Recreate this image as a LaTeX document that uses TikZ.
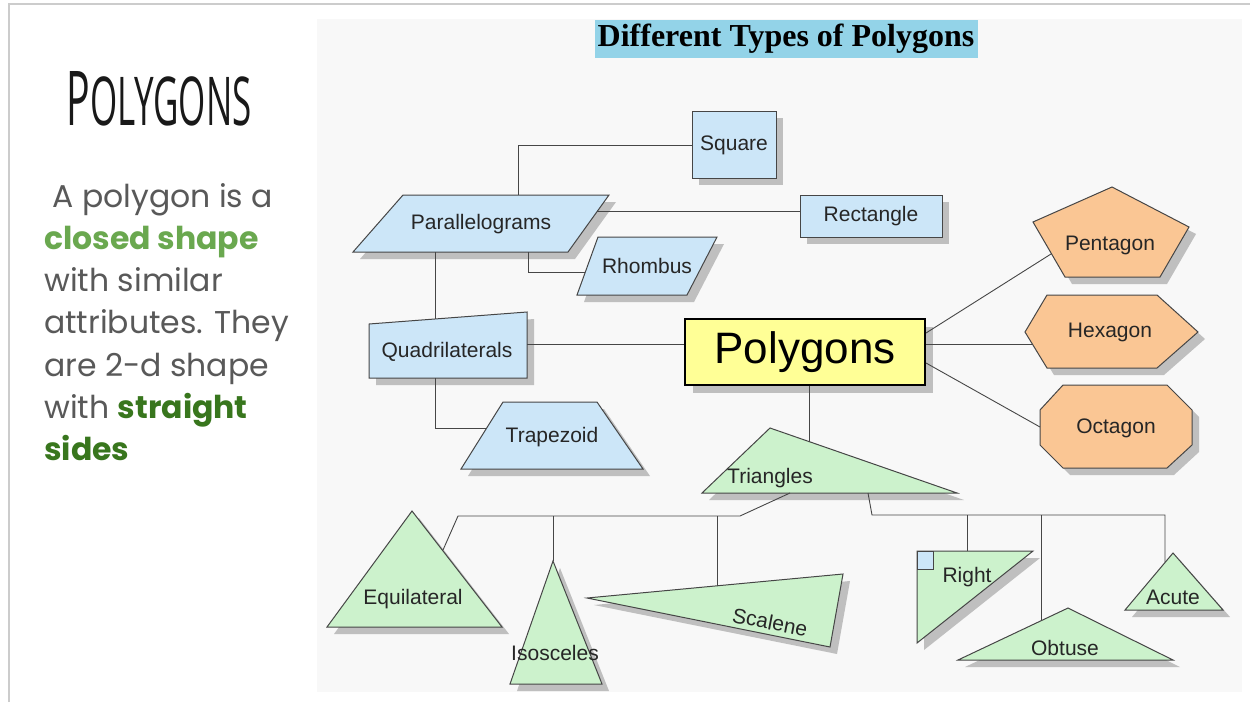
\documentclass[tikz,border=0pt]{standalone}
\usepackage{fontspec}
\setmainfont{Liberation Sans}
\newfontfamily\titlefont{Liberation Serif}
\newfontfamily\roundfont{Poppins}
\newfontfamily\headfont{Open Sans}
\usetikzlibrary{shadows}
\definecolor{qblue}{RGB}{204,230,248}
\definecolor{qgreen}{RGB}{204,242,204}
\definecolor{qorange}{RGB}{250,198,148}
\definecolor{qyellow}{RGB}{255,255,150}
\definecolor{qtitle}{RGB}{147,211,232}
\definecolor{qline}{RGB}{70,70,70}
\definecolor{qbg}{RGB}{248,248,248}
\definecolor{txtgray}{RGB}{89,89,89}
\definecolor{lgreen}{RGB}{106,168,79}
\definecolor{dgreen}{RGB}{56,118,29}
\tikzset{
  polyfig/.style={draw=qline, line width=1pt, line join=miter,
    drop shadow={shadow xshift=7pt, shadow yshift=-7pt, fill=black!25, opacity=1}},
  bluefig/.style={polyfig, fill=qblue},
  greenfig/.style={polyfig, fill=qgreen},
  orangefig/.style={polyfig, fill=qorange},
  conn/.style={draw=qline, line width=0.9pt},
  lbl/.style={font=\fontsize{21}{21}\selectfont, text=black!85, inner sep=0pt},
  body/.style={anchor=base west, inner sep=0pt, text=txtgray,
    font=\roundfont\fontsize{31.5}{31.5}\selectfont},
}
\begin{document}
\begin{tikzpicture}[x=1pt,y=-1pt]
\useasboundingbox (0,0) rectangle (1250,702);
\fill[white] (0,0) rectangle (1250,702);
% slide frame
\draw[black!20, line width=1.5pt] (9,702) -- (9,4) -- (1250,4);
% diagram background
\fill[qbg] (317,19) rectangle (1242,692);

% left panel
\node[inner sep=0pt, text=black!90] (head) at (159,99)
  {\resizebox{185pt}{54pt}{\headfont P\fontsize{8.9}{9}\selectfont OLYGONS}};
\node[body] (t1) at (44,207) {\ A polygon is a};
\node[body, text=lgreen] (t2) at (44,249) {\bfseries closed shape};
\node[body] (t3) at (44,291) {with similar};
\node[body] (t4) at (44,333) {attributes. They};
\node[body] (t5) at (44,376) {are 2-d shape};
\node[body] (t6) at (44,418) {with \textcolor{dgreen}{\bfseries straight}};
\node[body, text=dgreen] (t7) at (44,460) {\bfseries sides};

% title
\node[fill=qtitle, minimum width=383pt, minimum height=38pt, inner sep=0pt,
  font=\titlefont\bfseries\fontsize{32}{32}\selectfont] (title) at (786,39)
  {Different Types of Polygons};

% ---------- quadrilaterals branch ----------
\filldraw[bluefig] (692,111) rectangle (776,178);
\node[lbl] (sq) at (734,145) {Square};
\filldraw[bluefig] (403,195) -- (609,195) -- (568,252) -- (353,252) -- cycle;
\node[lbl] (par) at (481,224) {Parallelograms};
\filldraw[bluefig] (800,195) rectangle (942,237);
\node[lbl] (rect) at (871,216) {Rectangle};
\filldraw[bluefig] (598,237) -- (717,237) -- (687,295) -- (577,295) -- cycle;
\node[lbl] (rho) at (647,266) {Rhombus};
\filldraw[bluefig] (369,324) -- (527,312) -- (527,378) -- (369,378) -- cycle;
\node[lbl] (quad) at (447,352) {Quadrilaterals};
\filldraw[bluefig] (503,402) -- (597,402) -- (643,469) -- (461,469) -- cycle;
\node[lbl] (trap) at (552,437) {Trapezoid};

\coordinate (sqL) at (692,145);
\coordinate (parT) at (518,195);
\coordinate (parR) at (597,211);
\coordinate (rectL) at (800,211);
\coordinate (parB1) at (435,252);
\coordinate (parB2) at (528,252);
\coordinate (rhoL) at (585,272);
\coordinate (quadT) at (435,319);
\coordinate (quadR) at (527,344);
\coordinate (quadB) at (435,378);
\coordinate (trapL) at (487,428);

\draw[conn] (sqL) -| (parT);
\draw[conn] (parR) -- (rectL);
\draw[conn] (parB2) |- (rhoL);
\draw[conn] (parB1) -- (quadT);
\draw[conn] (quadB) |- (trapL);

% ---------- central node ----------
\node[draw=black, line width=2.5pt, fill=qyellow, minimum width=240pt,
  minimum height=66pt, inner sep=0pt,
  drop shadow={shadow xshift=8pt, shadow yshift=-8pt, fill=black!25, opacity=1},
  font=\fontsize{44}{44}\selectfont] (poly) at (805,352) {Polygons};
\coordinate (polyL) at (684,344);
\coordinate (polyR1) at (926,333);
\coordinate (polyR2) at (926,344);
\coordinate (polyR3) at (926,363);
\coordinate (polyB) at (809,386);
\draw[conn] (quadR) -- (polyL);

% ---------- pentagon, hexagon, octagon ----------
\filldraw[orangefig] (1112,187) -- (1189,227) -- (1160,277) -- (1065,277) -- (1033,222) -- cycle;
\node[lbl] (pent) at (1110,245) {Pentagon};
\filldraw[orangefig] (1025,332) -- (1047,295) -- (1157,295) -- (1198,332) -- (1157,368) -- (1047,368) -- cycle;
\node[lbl] (hex) at (1110,332) {Hexagon};
\filldraw[orangefig] (1063,385) -- (1167,385) -- (1192,410) -- (1192,445) -- (1167,468) -- (1063,468) -- (1040,445) -- (1040,410) -- cycle;
\node[lbl] (oct) at (1116,428) {Octagon};
\coordinate (pentL) at (1051,254);
\coordinate (hexL) at (1032,344);
\coordinate (octL) at (1040,427);
\draw[conn] (polyR1) -- (pentL);
\draw[conn] (polyR2) -- (hexL);
\draw[conn] (polyR3) -- (octL);

% ---------- triangles ----------
\filldraw[greenfig] (770,428) -- (957,493) -- (702,493) -- cycle;
\node[lbl] (tri) at (770,478) {Triangles};
\coordinate (triT) at (809,442);
\draw[conn] (polyB) -- (triT);

\filldraw[greenfig] (412,511) -- (502,627) -- (327,627) -- cycle;
\node[lbl] (equi) at (413,599) {Equilateral};
\filldraw[greenfig] (553,561) -- (602,684) -- (510,684) -- cycle;
\node[lbl] (iso) at (555,653) {Isosceles};
\filldraw[greenfig] (587,598) -- (843,574) -- (830,647) -- cycle;
\node[lbl, rotate=-11] (scal) at (770,622) {Scalene};
\filldraw[greenfig] (917,551) -- (1033,551) -- (917,643) -- cycle;
\filldraw[draw=qline, line width=0.8pt, fill=qblue] (917,551) rectangle (933,569);
\node[lbl] (right) at (967,577) {Right};
\filldraw[greenfig] (1068,608) -- (1173,660) -- (958,660) -- cycle;
\node[lbl] (obt) at (1065,648) {Obtuse};
\filldraw[greenfig] (1173,553) -- (1223,610) -- (1125,610) -- cycle;
\node[lbl] (acute) at (1173,597) {Acute};

\coordinate (triBL) at (790,493);
\coordinate (busL1) at (740,516);
\coordinate (busL2) at (458,516);
\coordinate (equiR) at (443,550);
\coordinate (isoT) at (553,561);
\coordinate (scalT) at (717,586);
\draw[conn] (triBL) -- (busL1) -- (busL2) -- (equiR);
\draw[conn] (isoT |- busL2) -- (isoT);
\draw[conn] (scalT |- busL2) -- (scalT);

\coordinate (triBR) at (868,493);
\coordinate (busR1) at (872,515);
\coordinate (busR2) at (1165,515);
\coordinate (acuteL) at (1165,562);
\coordinate (rightT) at (967,551);
\coordinate (obtL) at (1041,620);
\draw[conn] (triBR) -- (busR1) -- (busR2) -- (acuteL);
\draw[conn] (rightT |- busR1) -- (rightT);
\draw[conn] (obtL |- busR1) -- (obtL);
\end{tikzpicture}
\end{document}
